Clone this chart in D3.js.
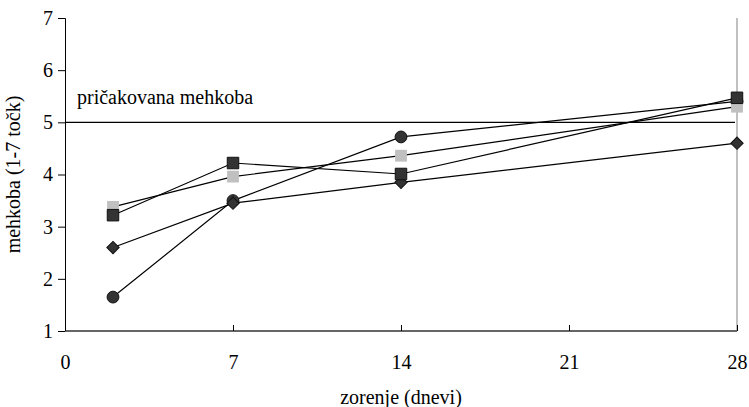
<!DOCTYPE html>
<html>
<head>
<meta charset="utf-8">
<script src="https://cdn.jsdelivr.net/npm/d3@7"></script>
<style>
  body { margin: 0; background: #fff; }
</style>
</head>
<body>
<svg id="chart" width="749" height="407"></svg>
<script>
const days = [2, 7, 14, 28];
const circleVals = [1.65, 3.5, 4.72, 5.4];
const diamondVals = [2.6, 3.45, 3.85, 4.6];
const lightSquareVals = [3.38, 3.96, 4.36, 5.3];
const darkSquareVals = [3.22, 4.22, 4.01, 5.47];
const xTicks = [0, 7, 14, 21, 28];
const yTicks = [1, 2, 3, 4, 5, 6, 7];
const expected = 5;

const serif = "Liberation Serif";
const fs = 20;

const margin = { top: 18, right: 12, bottom: 76, left: 65 };
const width = 749 - margin.left - margin.right;
const height = 407 - margin.top - margin.bottom;

const svg = d3.select("#chart")
    .append("g")
    .attr("transform", `translate(${margin.left},${margin.top})`);

const x = d3.scaleLinear().domain([0, 28]).range([0, width]);
const y = d3.scaleLinear().domain([1, 7]).range([height, 0]);

// right border
svg.append("line")
    .attr("x1", width).attr("x2", width)
    .attr("y1", 0).attr("y2", height)
    .attr("stroke", "#c0c0c0").attr("stroke-width", 2);

// y axis
const yAxis = svg.append("g")
    .call(d3.axisLeft(y).tickValues(yTicks).tickSize(7).tickPadding(5).tickFormat(d3.format("d")))
    .attr("font-family", serif).attr("font-size", fs);
yAxis.select(".domain").attr("stroke", "#000").attr("d", `M-7,0.5H0.5V${height}`);
yAxis.selectAll("text").attr("fill", "#000");

// x axis
const xAxis = svg.append("g")
    .attr("transform", `translate(0,${height})`)
    .call(d3.axisBottom(x).tickValues(xTicks).tickSize(-6).tickPadding(24))
    .attr("font-family", serif).attr("font-size", fs);
xAxis.select(".domain").attr("stroke", "#666").attr("stroke-width", 2).attr("d", `M0,0H${width}`);
xAxis.selectAll(".tick line").attr("stroke", "#000");
xAxis.selectAll("text").attr("fill", "#000");

// expected value line
svg.append("line")
    .attr("x1", 0).attr("x2", width - 2)
    .attr("y1", y(expected)).attr("y2", y(expected))
    .attr("stroke", "#000").attr("stroke-width", 1.2);
svg.append("text")
    .attr("x", 12).attr("y", y(expected) - 18)
    .attr("font-family", serif).attr("font-size", fs)
    .text("pričakovana mehkoba");

// axis titles
svg.append("text")
    .attr("x", width / 2).attr("y", height + 73)
    .attr("text-anchor", "middle")
    .attr("font-family", serif).attr("font-size", fs)
    .text("zorenje (dnevi)");
svg.append("text")
    .attr("transform", `translate(${-45},${height / 2}) rotate(-90)`)
    .attr("text-anchor", "middle")
    .attr("font-family", serif).attr("font-size", fs)
    .text("mehkoba (1-7 točk)");

const line = d3.line().x((d, i) => x(days[i])).y(d => y(d));

const series = [
    { vals: circleVals, shape: d3.symbolCircle, size: 110, rot: 0, fill: "#333", stroke: "#111" },
    { vals: diamondVals, shape: d3.symbolSquare, size: 76, rot: 45, fill: "#333", stroke: "#111" },
    { vals: lightSquareVals, shape: d3.symbolSquare, size: 140, rot: 0, fill: "#c0c0c0", stroke: "none" },
    { vals: darkSquareVals, shape: d3.symbolSquare, size: 132, rot: 0, fill: "#333", stroke: "#111" }
];

series.forEach(s => {
    svg.append("path")
        .datum(s.vals)
        .attr("d", line)
        .attr("fill", "none")
        .attr("stroke", "#000")
        .attr("stroke-width", 1.2);
    svg.selectAll(null)
        .data(s.vals)
        .enter().append("path")
        .attr("transform", (d, i) => `translate(${x(days[i])},${y(d)}) rotate(${s.rot})`)
        .attr("d", d3.symbol().type(s.shape).size(s.size))
        .attr("fill", s.fill)
        .attr("stroke", s.stroke)
        .attr("stroke-width", 1);
});
</script>
</body>
</html>
